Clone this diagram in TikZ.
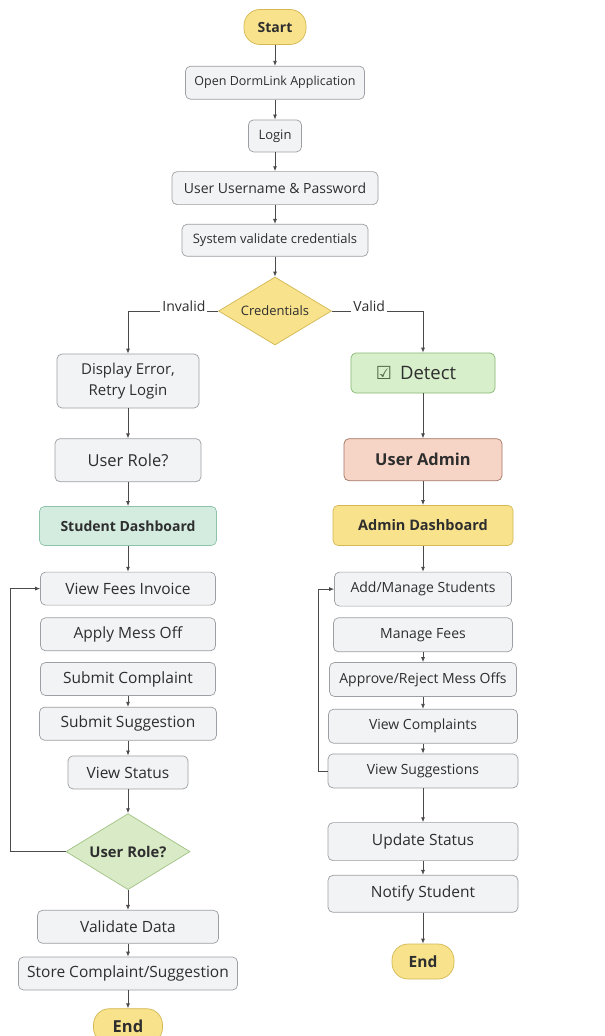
\documentclass[tikz,border=0pt]{standalone}
\usepackage{fontspec}
\setmainfont{Open Sans}
\newfontfamily\symfont{DejaVu Sans}
\usetikzlibrary{arrows.meta,positioning,calc,shapes.geometric}
\definecolor{boxfill}{HTML}{F2F3F4}
\definecolor{boxline}{HTML}{9C9FA3}
\definecolor{txt}{HTML}{2E2E2E}
\definecolor{ylwfill}{HTML}{F8E28C}
\definecolor{ylwline}{HTML}{D3B853}
\definecolor{grnfill}{HTML}{D8EFCB}
\definecolor{grnline}{HTML}{86B872}
\definecolor{mintfill}{HTML}{D4ECE0}
\definecolor{mintline}{HTML}{8FC2AA}
\definecolor{salfill}{HTML}{F7D5C6}
\definecolor{salline}{HTML}{A27464}
\definecolor{leaffill}{HTML}{D9EBC6}
\definecolor{leafline}{HTML}{A0C283}
\definecolor{arrcol}{HTML}{4A4A4A}
\tikzset{
  base/.style={rectangle, rounded corners=5pt, draw=boxline, line width=0.7pt,
    fill=boxfill, text=txt, align=center, inner sep=3pt, minimum height=33pt},
  stepS/.style={base, font=\fontsize{13}{15}\selectfont},
  stepR/.style={base, font=\fontsize{14}{16}\selectfont, minimum height=34pt},
  stepM/.style={base, font=\fontsize{15.5}{17}\selectfont},
  stepL/.style={base, font=\fontsize{15}{21}\selectfont},
  term/.style={rectangle, rounded corners=16pt, draw=ylwline, line width=0.7pt,
    fill=ylwfill, text=txt, font=\bfseries\fontsize{14}{16}\selectfont,
    minimum width=62pt, minimum height=35pt, inner sep=2pt},
  gate/.style={diamond, draw=ylwline, line width=0.7pt, fill=ylwfill, text=txt,
    font=\fontsize{13}{15}\selectfont, inner sep=0pt, aspect=1.66,
    minimum width=113pt, minimum height=68pt},
  roledec/.style={diamond, draw=leafline, line width=0.7pt, fill=leaffill, text=txt,
    font=\bfseries\fontsize{14.8}{17}\selectfont, inner sep=0pt, aspect=1.63,
    minimum width=124pt, minimum height=76pt},
  detectbox/.style={base, draw=grnline, fill=grnfill, font=\fontsize{18.5}{20}\selectfont,
    minimum width=144pt, minimum height=40pt},
  admin/.style={base, draw=salline, fill=salfill, font=\bfseries\fontsize{16.4}{18}\selectfont,
    minimum width=158pt, minimum height=42pt},
  studash/.style={base, draw=mintline, fill=mintfill, font=\bfseries\fontsize{14}{16}\selectfont,
    minimum width=177pt, minimum height=39pt},
  admdash/.style={base, draw=ylwline, fill=ylwfill, font=\bfseries\fontsize{14.5}{16}\selectfont,
    minimum width=180pt, minimum height=40pt},
  arr/.style={-{Latex[length=5pt,width=4pt]}, line width=0.8pt, draw=arrcol},
  lbl/.style={fill=white, text=txt, font=\fontsize{14}{16}\selectfont, inner xsep=2pt,
    inner ysep=2pt, anchor=base, yshift=-0.5pt},
}

\begin{document}
\begin{tikzpicture}[x=1pt, y=-1pt]
\useasboundingbox[fill=white] (0,0) rectangle (605,1036);

% ================= MAIN TRUNK =================
\node[term] (start) at (275,27) {Start};
\node[stepS, minimum width=179pt, font=\fontsize{12.5}{15}\selectfont, below=21pt of start] (open) {Open DormLink Application};
\node[stepS, minimum width=53pt, minimum height=32pt, below=20pt of open] (login) {Login};
\node[stepS, minimum width=206pt, font=\fontsize{14}{16}\selectfont, below=19pt of login] (userpw) {User Username \& Password};
\node[stepS, minimum width=186pt, minimum height=32pt, below=19pt of userpw] (sysval) {System validate credentials};
\node[gate, below=20pt of sysval] (cred) {Credentials};

% ================= LEFT : STUDENT =================
\node[stepL, minimum width=142pt, minimum height=54pt] (err) at (128,381) {Display Error,\\Retry Login};
\node[stepL, minimum width=146pt, minimum height=43pt, font=\fontsize{16.5}{18}\selectfont, below=30pt of err] (role) {User Role?};
\node[studash, below=24pt of role] (sdash) {Student Dashboard};
\node[stepM, minimum width=175pt, below=26pt of sdash] (fees) {View Fees Invoice};
\node[stepM, minimum width=175pt, below=12pt of fees] (mess) {Apply Mess Off};
\node[stepM, minimum width=175pt, below=11pt of mess] (compl) {Submit Complaint};
\node[stepM, minimum width=177pt, below=11pt of compl] (sugg) {Submit Suggestion};
\node[stepM, minimum width=120pt, below=15pt of sugg] (status) {View Status};
\node[roledec, below=24pt of status] (role2) {User Role?};
\node[stepM, minimum width=181pt, below=20pt of role2] (valdata) {Validate Data};
\node[stepM, minimum width=219pt, below=13pt of valdata] (store) {Store Complaint/Suggestion};
\node[term, font=\bfseries\fontsize{16.5}{19}\selectfont, minimum width=69pt, below=18pt of store] (endL) {End};

% ================= RIGHT : ADMIN =================
\node[detectbox] (detect) at (423,373)
  {\textcolor{grnline!55!black}{\symfont\fontsize{18}{20}\selectfont ☑}\hspace{8pt}Detect\hspace{14pt}};
\node[admin, below=45pt of detect] (uadmin) {User Admin};
\node[admdash, below=24pt of uadmin] (adash) {Admin Dashboard};
\node[stepR, minimum width=177pt, below=26pt of adash] (addst) {Add/Manage Students};
\node[stepR, minimum width=179pt, below=11pt of addst] (mfees) {Manage Fees};
\node[stepR, minimum width=187pt, below=10pt of mfees] (approve) {Approve/Reject Mess Offs};
\node[stepR, minimum width=189pt, below=12pt of approve] (vcompl) {View Complaints};
\node[stepR, minimum width=190pt, below=10pt of vcompl] (vsugg) {View Suggestions};
\node[stepM, minimum width=190pt, minimum height=38pt, below=34pt of vsugg] (upd) {Update Status};
\node[stepM, minimum width=190pt, minimum height=37pt, below=14pt of upd] (notify) {Notify Student};
\node[term, font=\bfseries\fontsize{15.5}{17}\selectfont, minimum width=62pt, below=31pt of notify] (endR) {End};

\coordinate (loopL) at (10,0);
\coordinate (loopR) at (318,0);

% ================= ARROWS =================
\draw[arr] (start) -- (open);
\draw[arr] (open) -- (login);
\draw[arr] (login) -- (userpw);
\draw[arr] (userpw) -- (sysval);
\draw[arr] (sysval) -- (cred);

\draw[arr] (cred.west) -| (err.north) node[lbl, pos=0.19] {Invalid};
\draw[arr] (cred.east) -| (detect.north) node[lbl, pos=0.205] {Valid};

\draw[arr] (err) -- (role);
\draw[arr] (role) -- (sdash);
\draw[arr] (sdash) -- (fees);
\draw[arr] (compl) -- (sugg);
\draw[arr] (sugg) -- (status);
\draw[arr] (status) -- (role2);
\draw[arr] (role2.west) -- (role2.west -| loopL) |- (fees.west);
\draw[arr] (role2) -- (valdata);
\draw[arr] (valdata) -- (store);
\draw[arr] (store) -- (endL);

\draw[arr] (detect) -- (uadmin);
\draw[arr] (uadmin) -- (adash);
\draw[arr] (adash) -- (addst);
\draw[arr] (mfees) -- (approve);
\draw[arr] (approve) -- (vcompl);
\draw[arr] (vcompl) -- (vsugg);
\draw[arr] (vsugg.west) -- (vsugg.west -| loopR) |- (addst.west);
\draw[arr] (vsugg) -- (upd);
\draw[arr] (upd) -- (notify);
\draw[arr] (notify) -- (endR);

\end{tikzpicture}
\end{document}
